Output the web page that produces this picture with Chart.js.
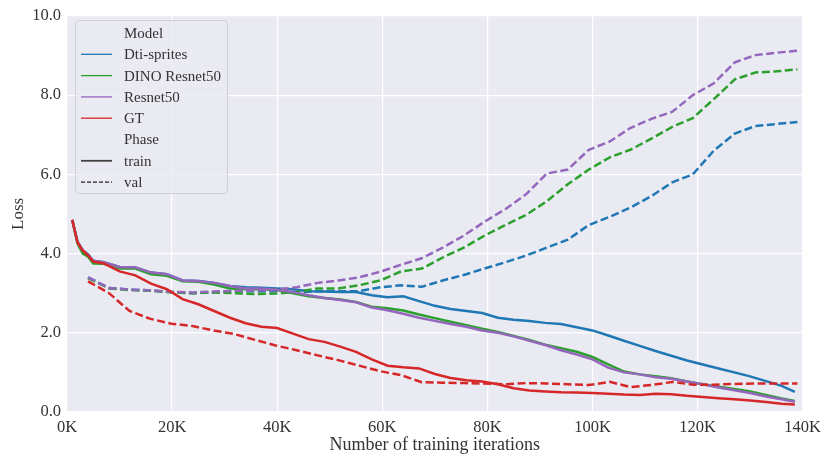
<!DOCTYPE html>
<html>
<head>
<meta charset="utf-8">
<script src="https://cdn.jsdelivr.net/npm/chart.js@4"></script>
<style>
  body { margin: 0; background: #fff; }
  #wrap { width: 827px; height: 460px; }
</style>
</head>
<body>
<div id="wrap"><canvas id="lossChart"></canvas></div>
<script>
// ── DATA ────────────────────────────────────────────────────

// training iterations in thousands
const trainIters = [1, 2, 3, 4, 5, 7, 10, 13, 16, 19, 22, 25, 28, 31, 34, 37, 40, 43, 46, 49,
  52, 55, 58, 61, 64, 67, 70, 73, 76, 79, 82, 85, 88, 91, 94, 97, 100, 103, 106, 109,
  112, 115, 118, 121, 124, 127, 130, 133, 136, 138.5];
const valIters = [4.0, 8.0, 11.9, 15.9, 19.9, 23.9, 27.8, 31.8, 35.8, 39.7, 43.7, 47.7, 51.6,
  55.6, 59.6, 63.6, 67.5, 71.5, 75.5, 79.4, 83.4, 87.4, 91.3, 95.3, 99.3, 103.3, 107.2,
  111.2, 115.2, 119.1, 123.1, 127.1, 131.0, 135.0, 139.0];

const dtiTrain = [4.85, 4.30, 4.08, 3.98, 3.82, 3.78, 3.66, 3.65, 3.52, 3.48, 3.32, 3.31, 3.26, 3.18,
  3.15, 3.14, 3.12, 3.10, 3.05, 3.04, 3.03, 3.03, 2.95, 2.90, 2.92, 2.80, 2.68, 2.60, 2.55, 2.50,
  2.38, 2.33, 2.30, 2.25, 2.22, 2.14, 2.06, 1.93, 1.80, 1.67, 1.54, 1.42, 1.30, 1.20, 1.10, 1.00,
  0.90, 0.78, 0.66, 0.51];
const dinoTrain = [4.85, 4.25, 4.00, 3.92, 3.75, 3.74, 3.62, 3.62, 3.48, 3.44, 3.30, 3.29, 3.22, 3.12,
  3.10, 3.10, 3.08, 3.00, 2.92, 2.88, 2.84, 2.78, 2.66, 2.62, 2.56, 2.46, 2.37, 2.28, 2.19, 2.10,
  2.02, 1.92, 1.82, 1.70, 1.61, 1.52, 1.39, 1.20, 1.02, 0.95, 0.90, 0.85, 0.77, 0.70, 0.64, 0.58,
  0.52, 0.43, 0.34, 0.28];
const resnetTrain = [4.85, 4.30, 4.08, 3.98, 3.82, 3.78, 3.66, 3.65, 3.52, 3.48, 3.32, 3.31, 3.26, 3.18,
  3.12, 3.12, 3.08, 3.03, 2.95, 2.88, 2.83, 2.77, 2.64, 2.57, 2.48, 2.38, 2.30, 2.22, 2.15, 2.06,
  2.00, 1.91, 1.80, 1.69, 1.56, 1.45, 1.33, 1.12, 1.00, 0.95, 0.88, 0.84, 0.77, 0.70, 0.62, 0.55,
  0.48, 0.39, 0.32, 0.26];
const gtTrain = [4.85, 4.28, 4.08, 3.95, 3.80, 3.75, 3.55, 3.45, 3.24, 3.10, 2.85, 2.72, 2.55, 2.38,
  2.24, 2.15, 2.12, 1.98, 1.84, 1.77, 1.65, 1.52, 1.33, 1.17, 1.13, 1.10, 0.96, 0.86, 0.80, 0.77,
  0.70, 0.60, 0.54, 0.52, 0.50, 0.49, 0.48, 0.46, 0.44, 0.43, 0.46, 0.45, 0.41, 0.38, 0.35, 0.32,
  0.29, 0.25, 0.21, 0.19];

const dtiVal = [3.40, 3.13, 3.09, 3.07, 3.03, 3.00, 3.02, 3.05, 3.05, 3.05, 3.03, 3.05, 3.05, 3.05,
  3.15, 3.20, 3.16, 3.32, 3.46, 3.62, 3.78, 3.95, 4.15, 4.35, 4.72, 4.93, 5.16, 5.45, 5.80, 6.00,
  6.60, 7.03, 7.22, 7.27, 7.32];
const dinoVal = [3.38, 3.12, 3.08, 3.06, 3.02, 3.00, 3.02, 3.00, 2.98, 2.99, 3.03, 3.12, 3.12, 3.20,
  3.32, 3.55, 3.62, 3.90, 4.15, 4.45, 4.72, 4.98, 5.32, 5.75, 6.12, 6.43, 6.62, 6.90, 7.20, 7.42,
  7.90, 8.40, 8.57, 8.60, 8.65];
const resnetVal = [3.40, 3.13, 3.09, 3.07, 3.03, 3.02, 3.04, 3.06, 3.07, 3.08, 3.15, 3.26, 3.32, 3.40,
  3.54, 3.72, 3.88, 4.15, 4.45, 4.80, 5.12, 5.50, 6.02, 6.12, 6.62, 6.83, 7.17, 7.40, 7.58, 8.00,
  8.30, 8.83, 9.01, 9.07, 9.12];
const gtVal = [3.30, 3.00, 2.55, 2.35, 2.23, 2.17, 2.06, 1.97, 1.82, 1.68, 1.56, 1.43, 1.31, 1.17,
  1.03, 0.93, 0.75, 0.74, 0.73, 0.72, 0.70, 0.73, 0.72, 0.70, 0.68, 0.76, 0.63, 0.68, 0.76, 0.69,
  0.69, 0.71, 0.72, 0.72, 0.72];

const models = ['Dti-sprites', 'DINO Resnet50', 'Resnet50', 'GT'];
const modelColors = ['#1f77b4', '#2ca02c', '#9467bd', '#d62728'];
const trainSeries = [dtiTrain, dinoTrain, resnetTrain, gtTrain];
const valSeries = [dtiVal, dinoVal, resnetVal, gtVal];

const xTicks = [0, 20, 40, 60, 80, 100, 120, 140];
const yTicks = [0, 2, 4, 6, 8, 10];

// ── DATASETS ────────────────────────────────────────────────

const toPoints = (xs, ys) => ys.map((y, i) => ({ x: xs[i], y: y }));

const datasets = [];
models.forEach((name, m) => {
  datasets.push({
    label: name + ' train',
    data: toPoints(trainIters, trainSeries[m]),
    borderColor: modelColors[m],
    borderWidth: 2.5,
    pointRadius: 0,
    order: 10 - m * 2,
  });
  datasets.push({
    label: name + ' val',
    data: toPoints(valIters, valSeries[m]),
    borderColor: modelColors[m],
    borderWidth: 2.5,
    borderDash: [8, 3.5],
    pointRadius: 0,
    order: 9 - m * 2,
  });
});

// ── PLUGINS ─────────────────────────────────────────────────

const FONT = '"Liberation Serif", "DejaVu Serif", serif';

const plotBackground = {
  id: 'plotBackground',
  beforeDraw(chart) {
    const { ctx, chartArea: a } = chart;
    ctx.save();
    ctx.fillStyle = '#eaeaf2';
    ctx.fillRect(a.left, a.top, a.right - a.left, a.bottom - a.top);
    ctx.restore();
  }
};

const seabornLegend = {
  id: 'seabornLegend',
  afterDraw(chart) {
    const ctx = chart.ctx;
    const x0 = 75.5, y0 = 20.5, w = 152, h = 173;
    ctx.save();
    ctx.beginPath();
    ctx.roundRect(x0, y0, w, h, 4);
    ctx.fillStyle = 'rgba(234, 234, 242, 0.8)';
    ctx.fill();
    ctx.strokeStyle = '#cfcfd6';
    ctx.lineWidth = 1;
    ctx.stroke();

    const rows = [
      { text: 'Model' },
      { text: models[0], color: modelColors[0], width: 1.3 },
      { text: models[1], color: modelColors[1], width: 1.3 },
      { text: models[2], color: modelColors[2], width: 1.3 },
      { text: models[3], color: modelColors[3], width: 1.3 },
      { text: 'Phase' },
      { text: 'train', color: '#444444', width: 1.8 },
      { text: 'val', color: '#222222', width: 1.3, dash: [4, 2] },
    ];
    ctx.font = '15px ' + FONT;
    ctx.textBaseline = 'middle';
    ctx.fillStyle = '#333333';
    rows.forEach((r, i) => {
      const y = 33 + i * 21.3;
      if (r.color) {
        ctx.beginPath();
        ctx.setLineDash(r.dash || []);
        ctx.strokeStyle = r.color;
        ctx.lineWidth = r.width;
        ctx.moveTo(81, y);
        ctx.lineTo(112, y);
        ctx.stroke();
        ctx.setLineDash([]);
      }
      ctx.fillText(r.text, 124, y + 1);
    });
    ctx.restore();
  }
};

// ── CHART ───────────────────────────────────────────────────

const ctx = document.getElementById('lossChart').getContext('2d');

new Chart(ctx, {
  type: 'line',
  data: { datasets: datasets },
  options: {
    responsive: true,
    maintainAspectRatio: false,
    animation: false,
    events: [],
    layout: { padding: { top: 12, right: 23, left: 0, bottom: 0 } },
    plugins: {
      legend: { display: false },
      tooltip: { enabled: false }
    },
    scales: {
      x: {
        type: 'linear',
        min: 0,
        max: 140,
        afterFit: s => { s.height = 48; },
        afterBuildTicks: s => { s.ticks = xTicks.map(v => ({ value: v })); },
        ticks: {
          callback: v => v + 'K',
          color: '#333333',
          font: { family: FONT, size: 16.5 },
          padding: 6,
          maxRotation: 0
        },
        grid: { color: '#ffffff', lineWidth: 1.2, drawTicks: false },
        border: { display: false },
        title: {
          display: true,
          text: 'Number of training iterations',
          color: '#333333',
          font: { family: FONT, size: 18 },
          padding: { top: 0, bottom: 4 }
        }
      },
      y: {
        min: 0,
        max: 10,
        afterFit: s => { s.width = 67; },
        afterBuildTicks: s => { s.ticks = yTicks.map(v => ({ value: v })); },
        ticks: {
          callback: v => v.toFixed(1),
          color: '#333333',
          font: { family: FONT, size: 16.5 },
          padding: 6
        },
        grid: { color: '#ffffff', lineWidth: 1.2, drawTicks: false },
        border: { display: false },
        title: {
          display: true,
          text: 'Loss',
          color: '#333333',
          font: { family: FONT, size: 17 },
          padding: { top: 8, bottom: 0 }
        }
      }
    }
  },
  plugins: [plotBackground, seabornLegend]
});
</script>
</body>
</html>
